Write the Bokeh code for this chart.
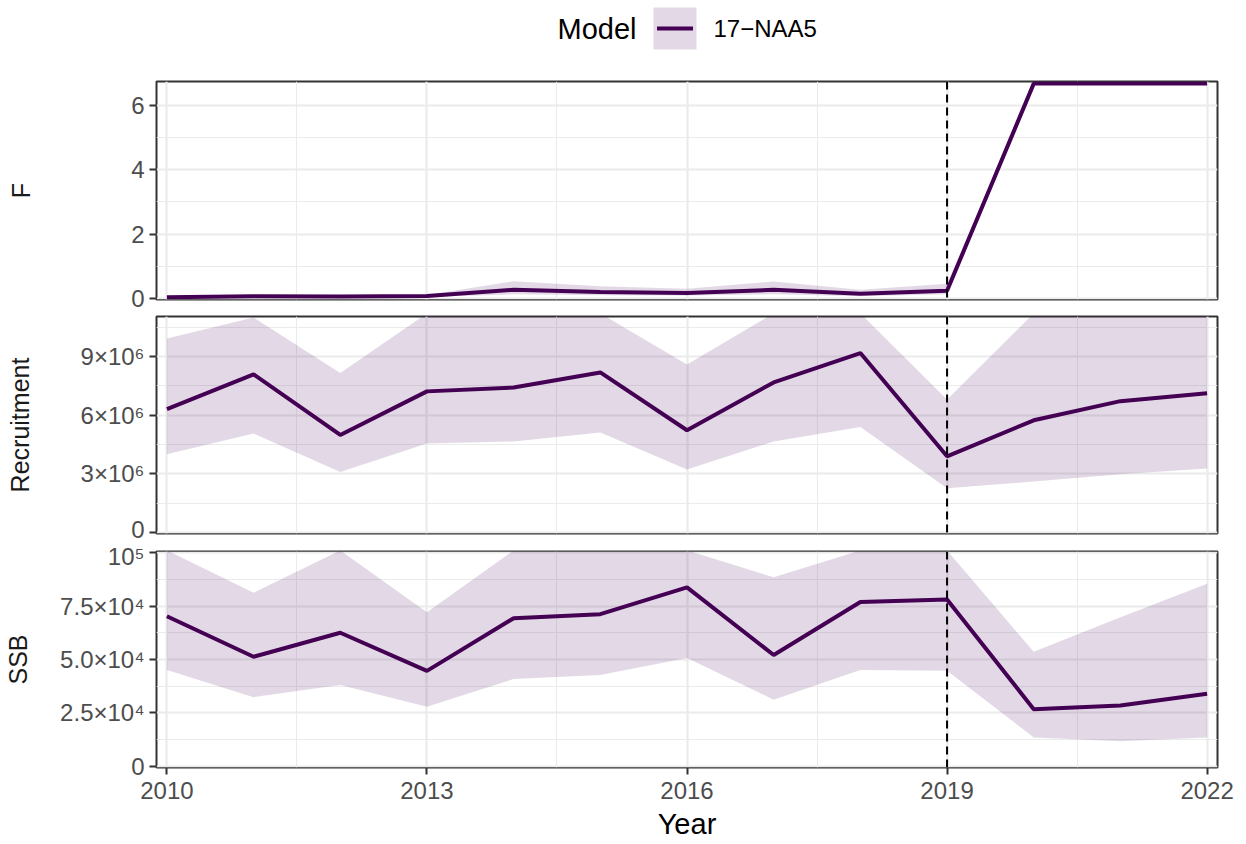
from bokeh.plotting import figure
from bokeh.layouts import column
from bokeh.models import Range1d, FixedTicker, Span, ColumnDataSource
from bokeh.embed import file_html
from bokeh.resources import INLINE
from bokeh.core.properties import value

# ---------------- data ----------------
years = list(range(2010, 2023))

f_est = [0.04, 0.07, 0.06, 0.08, 0.27, 0.20, 0.17, 0.27, 0.15, 0.24, 6.68, 6.68, 6.68]
f_lo = [0.02, 0.05, 0.04, 0.05, 0.13, 0.10, 0.09, 0.13, 0.07, 0.13, 6.68, 6.68, 6.68]
f_hi = [0.07, 0.10, 0.09, 0.11, 0.54, 0.38, 0.30, 0.53, 0.27, 0.46, 6.68, 6.68, 6.68]

rec_est = [6.30e6, 8.08e6, 4.98e6, 7.21e6, 7.41e6, 8.18e6, 5.22e6, 7.67e6, 9.17e6, 3.89e6, 5.73e6, 6.71e6, 7.12e6]
rec_lo = [3.99e6, 5.05e6, 3.08e6, 4.55e6, 4.65e6, 5.11e6, 3.22e6, 4.65e6, 5.39e6, 2.25e6, 2.60e6, 2.97e6, 3.27e6]
rec_hi = [9.92e6, 10.99e6, 8.15e6, 11.2e6, 11.2e6, 11.2e6, 8.59e6, 11.2e6, 11.2e6, 6.79e6, 11.2e6, 11.2e6, 11.2e6]

ssb_est = [7.02e4, 5.13e4, 6.25e4, 4.47e4, 6.93e4, 7.12e4, 8.37e4, 5.21e4, 7.69e4, 7.80e4, 2.68e4, 2.85e4, 3.40e4]
ssb_lo = [4.51e4, 3.24e4, 3.81e4, 2.79e4, 4.09e4, 4.28e4, 5.07e4, 3.12e4, 4.51e4, 4.47e4, 1.36e4, 1.18e4, 1.35e4]
ssb_hi = [10.1e4, 8.12e4, 10.1e4, 7.21e4, 10.1e4, 10.1e4, 10.1e4, 8.84e4, 10.1e4, 10.1e4, 5.36e4, 6.98e4, 8.54e4]

x_ticks = [2010, 2013, 2016, 2019, 2022]
x_minor = [2011.5, 2014.5, 2017.5, 2020.5]

f_ticks = [0, 2, 4, 6]
f_minor = [1, 3, 5]
rec_ticks = [0, 3000000, 6000000, 9000000]
rec_minor = [1500000, 4500000, 7500000, 10500000]
rec_labels = ["0", "3×10⁶", "6×10⁶", "9×10⁶"]
ssb_ticks = [0, 25000, 50000, 75000, 100000]
ssb_minor = [12500, 37500, 62500, 87500]
ssb_labels = ["0", "2.5×10⁴", "5.0×10⁴", "7.5×10⁴", "10⁵"]

ref_year = 2019
legend_title = "Model"
model_names = ["17−NAA5"]
x_title = "Year"

# ---------------- style ----------------
LINE = "#440154"
FONT = "Liberation Sans"
W = 1246
LEFT = 156
RIGHT = 29
X_RANGE = (2009.88, 2022.12)


def panel(est, lo, hi, yr, yticks, yminor, ylabel, label_standoff, height,
          top, bottom, overrides=None, show_x=False):
    src = ColumnDataSource(dict(year=years, est=est, lo=lo, hi=hi))
    p = figure(width=W, height=height, x_range=Range1d(*X_RANGE),
               y_range=Range1d(*yr), toolbar_location=None,
               output_backend="svg", title=None,
               min_border_left=LEFT, min_border_right=RIGHT,
               min_border_top=top, min_border_bottom=bottom)
    p.background_fill_color = "white"
    p.border_fill_color = "white"
    p.outline_line_color = "#333333"
    p.outline_line_width = 2

    xt = FixedTicker(ticks=x_ticks, minor_ticks=x_minor)
    yt = FixedTicker(ticks=yticks, minor_ticks=yminor)
    p.xaxis.ticker = xt
    p.xgrid.ticker = xt
    p.yaxis.ticker = yt
    p.ygrid.ticker = yt

    for g in (p.xgrid, p.ygrid):
        g.grid_line_color = "#EBEBEB"
        g.grid_line_width = 2.2
        g.minor_grid_line_color = "#EBEBEB"
        g.minor_grid_line_width = 1.1

    for ax in (p.xaxis, p.yaxis):
        ax.axis_line_color = None
        ax.major_tick_line_color = "#333333"
        ax.major_tick_line_width = 2
        ax.major_tick_out = 7
        ax.major_tick_in = 0
        ax.minor_tick_line_color = None
        ax.major_label_text_font = FONT
        ax.major_label_text_font_size = "24px"
        ax.major_label_text_color = "#4D4D4D"
        ax.axis_label_text_font = FONT
        ax.axis_label_text_font_style = "normal"
        ax.axis_label_text_color = "#1A1A1A"

    p.yaxis.major_label_standoff = 5
    p.yaxis.axis_label = ylabel
    p.yaxis.axis_label_text_font_size = "25px"
    p.yaxis.axis_label_standoff = label_standoff
    if overrides:
        p.yaxis.major_label_overrides = overrides

    if show_x:
        p.xaxis.axis_label = x_title
        p.xaxis.axis_label_text_font_size = "29px"
        p.xaxis.axis_label_text_color = "black"
        p.xaxis.major_label_standoff = 7
        p.xaxis.axis_label_standoff = 6
    else:
        p.xaxis.visible = False

    p.varea(x="year", y1="lo", y2="hi", source=src,
            fill_color=LINE, fill_alpha=0.15)
    p.line(x="year", y="est", source=src, line_color=LINE, line_width=4)
    p.add_layout(Span(location=ref_year, dimension="height",
                      line_color="black", line_width=2, line_dash="8 5"))
    return p


p1 = panel(f_est, f_lo, f_hi, (-0.031, 6.746), f_ticks, f_minor, "F", 93,
           height=249, top=17, bottom=14)
p2 = panel(rec_est, rec_lo, rec_hi, (-0.06e6, 11.04e6), rec_ticks, rec_minor,
           "Recruitment", 44, height=229, top=3, bottom=9,
           overrides=dict(zip(rec_ticks, rec_labels)))
p3 = panel(ssb_est, ssb_lo, ssb_hi, (-470, 100470), ssb_ticks, ssb_minor,
           "SSB", 25, height=300, top=9, bottom=74,
           overrides=dict(zip(ssb_ticks, ssb_labels)), show_x=True)

# ---------------- legend strip (page-pixel coordinates) ----------------
LH = 64
pl = figure(width=W, height=LH, x_range=Range1d(LEFT, W - RIGHT),
            y_range=Range1d(LH, 0), toolbar_location=None,
            output_backend="svg", title=None,
            min_border_left=LEFT, min_border_right=RIGHT,
            min_border_top=0, min_border_bottom=0,
            x_axis_location=None, y_axis_location=None)
pl.outline_line_color = None
pl.background_fill_color = "white"
pl.border_fill_color = "white"
pl.grid.visible = False
for r in pl.center:
    r.visible = False

key_cx, key_cy = 674.5, 28
pl.rect(x=[key_cx], y=[key_cy], width=43, height=42, fill_color=LINE,
        fill_alpha=0.15, line_color=None)
pl.segment(x0=[key_cx - 18], y0=[key_cy], x1=[key_cx + 18], y1=[key_cy],
           line_color=LINE, line_width=4)
pl.text(x=[557], y=[key_cy], text=[legend_title], text_font=value(FONT),
        text_font_size="29px", text_baseline="middle", text_align="left",
        text_color="black")
pl.text(x=[713], y=[key_cy], text=model_names, text_font=value(FONT),
        text_font_size="24px", text_baseline="middle", text_align="left",
        text_color="black")

layout = column(pl, p1, p2, p3, spacing=0)
open("out.html", "w").write(file_html(layout, INLINE))
